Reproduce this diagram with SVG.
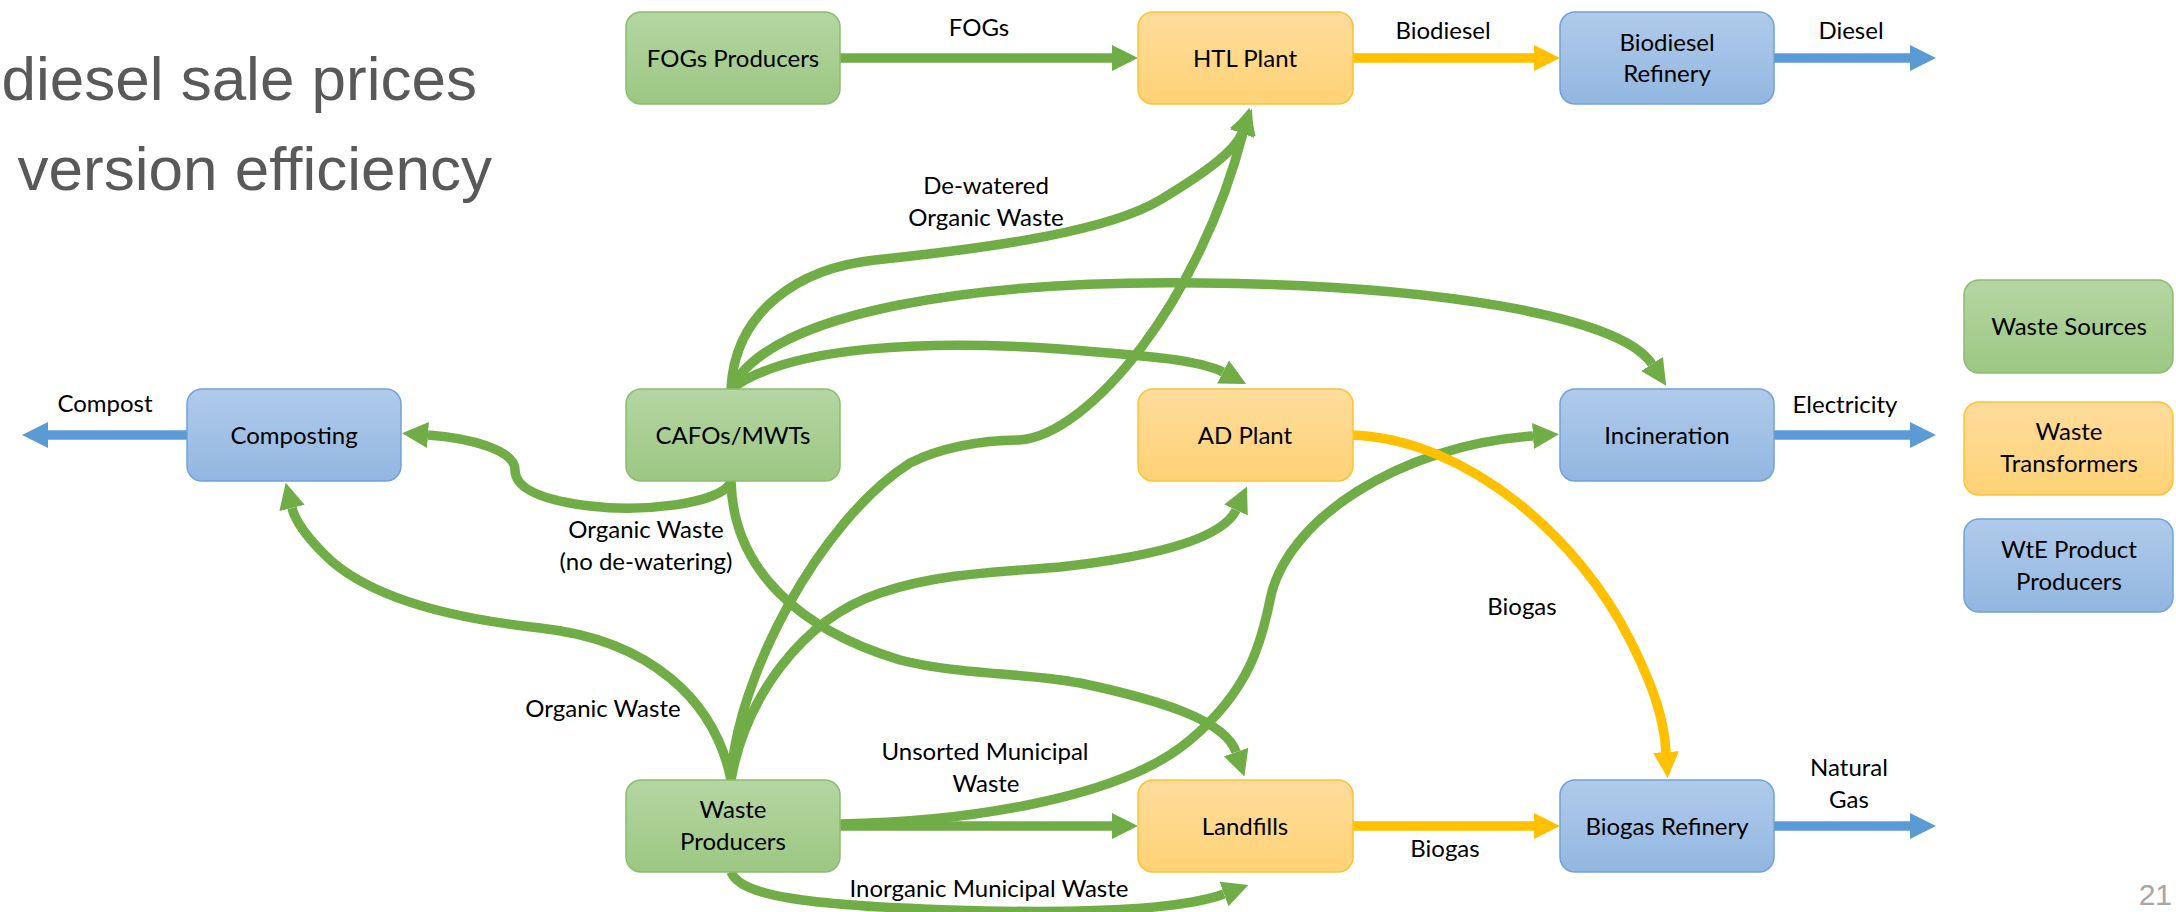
<svg xmlns="http://www.w3.org/2000/svg" width="2176" height="912" viewBox="0 0 2176 912">
<defs>
<linearGradient id="gG" x1="0" y1="0" x2="0" y2="1"><stop offset="0" stop-color="#b5d6a3"/><stop offset="1" stop-color="#9cc782"/></linearGradient>
<linearGradient id="gO" x1="0" y1="0" x2="0" y2="1"><stop offset="0" stop-color="#fedc9c"/><stop offset="1" stop-color="#fed276"/></linearGradient>
<linearGradient id="gB" x1="0" y1="0" x2="0" y2="1"><stop offset="0" stop-color="#b0cbea"/><stop offset="1" stop-color="#92b6e1"/></linearGradient>
<marker id="aG" viewBox="0 0 26 26" refX="0" refY="13" markerWidth="26" markerHeight="26" markerUnits="userSpaceOnUse" orient="auto"><path d="M0,0 L26,13 L0,26 z" fill="#70ad47"/></marker>
<marker id="aY" viewBox="0 0 26 26" refX="0" refY="13" markerWidth="26" markerHeight="26" markerUnits="userSpaceOnUse" orient="auto"><path d="M0,0 L26,13 L0,26 z" fill="#ffc000"/></marker>
<marker id="aB" viewBox="0 0 26 26" refX="0" refY="13" markerWidth="26" markerHeight="26" markerUnits="userSpaceOnUse" orient="auto"><path d="M0,0 L26,13 L0,26 z" fill="#5b9bd5"/></marker>
<style>
.g{fill:url(#gG);stroke:#8cbc6e;stroke-width:1.5}
.o{fill:url(#gO);stroke:#fdc233;stroke-width:1.5}
.b{fill:url(#gB);stroke:#71a2d8;stroke-width:1.5}
.t{font-family:Lato,"Liberation Sans",sans-serif;font-size:24px;fill:#000;text-anchor:middle}
.cg{fill:none;stroke:#70ad47;stroke-width:9.5;marker-end:url(#aG)}
.cy{fill:none;stroke:#ffc000;stroke-width:9.5;marker-end:url(#aY)}
.cb{fill:none;stroke:#5b9bd5;stroke-width:9.5;marker-end:url(#aB)}
.title{font-family:"Liberation Sans",Arial,sans-serif;font-size:62px;fill:#595959;text-anchor:end}
</style>
</defs>
<rect width="2176" height="912" fill="#fff"/>
<text class="title" x="477" y="100">diesel sale prices</text>
<text class="title" x="492" y="190">version efficiency</text>
<text x="2172" y="905" font-family="Liberation Sans,Arial,sans-serif" font-size="30" fill="#a6a6a6" text-anchor="end">21</text>

<g id="connectors">
<path class="cg" d="M840 58 H1112"/>
<path class="cy" d="M1353 58 H1534"/>
<path class="cb" d="M1774 58 H1910"/>
<path class="cb" d="M187 435 H48"/>
<path class="cb" d="M1774 435 H1910"/>
<path class="cg" d="M840 826 H1112"/>
<path class="cy" d="M1353 826 H1534"/>
<path class="cb" d="M1774 826 H1910"/>
<path class="cg" d="M731 389 C735 310 800 268 875 260 C1000 247 1110 230 1160 200 C1210 170 1235 150 1242 133"/>
<path class="cg" d="M731 780 C735 680 820 520 910 463 C940 448 980 440 1019 440 C1090 435 1200 300 1243 133"/>
<path class="cg" d="M731 389 C770 310 980 280 1200 283 C1430 285 1620 315 1652 364"/>
<path class="cg" d="M731 389 C790 345 930 340 1060 349 C1150 356 1200 360 1223 372"/>
<path class="cg" d="M731 481 C733 570 800 630 900 660 C960 675 1020 672 1080 683 C1160 700 1225 720 1236 752"/>
<path class="cg" d="M731 482 C720 505 640 512 590 506 C540 500 515 488 515 470 C515 450 470 438 428 435"/>
<path class="cg" d="M731 780 C715 700 650 640 540 628 C430 616 360 590 325 555 C305 535 295 520 292 508"/>
<path class="cg" d="M731 780 C745 700 800 620 880 593 C940 573 1000 572 1060 567 C1150 557 1222 540 1236 510"/>
<path class="cg" d="M840 824 C960 822 1120 800 1190 740 C1250 690 1262 640 1270 600 C1285 520 1400 445 1533 436"/>
<path class="cg" d="M731 872 C740 895 800 905 950 910 C1080 914 1180 910 1224 894"/>
<path class="cy" d="M1353 435 C1470 440 1580 540 1630 640 C1655 690 1664 720 1666 752"/>
<g class="t">
<text x="979" y="36">FOGs</text>
<text x="1443" y="39">Biodiesel</text>
<text x="1851" y="39">Diesel</text>
<text x="986" y="194">De-watered</text>
<text x="986" y="226">Organic Waste</text>
<text x="105" y="412">Compost</text>
<text x="1845" y="413">Electricity</text>
<text x="646" y="538">Organic Waste</text>
<text x="646" y="570">(no de-watering)</text>
<text x="1522" y="615">Biogas</text>
<text x="603" y="717">Organic Waste</text>
<text x="985" y="760">Unsorted Municipal</text>
<text x="986" y="792">Waste</text>
<text x="1849" y="776">Natural</text>
<text x="1849" y="808">Gas</text>
<text x="1445" y="857">Biogas</text>
<text x="989" y="897">Inorganic Municipal Waste</text>
</g>
</g>

<g id="fogs-producers"><rect class="g" x="626" y="12" width="214" height="92" rx="15"/><text class="t" x="733" y="67">FOGs Producers</text></g>
<g id="htl-plant"><rect class="o" x="1138" y="12" width="215" height="92" rx="15"/><text class="t" x="1245" y="67">HTL Plant</text></g>
<g id="biodiesel-refinery"><rect class="b" x="1560" y="12" width="214" height="92" rx="15"/><text class="t" x="1667" y="51">Biodiesel</text><text class="t" x="1667" y="82">Refinery</text></g>
<g id="composting"><rect class="b" x="187" y="389" width="214" height="92" rx="15"/><text class="t" x="294" y="444">Composting</text></g>
<g id="cafos-mwts"><rect class="g" x="626" y="389" width="214" height="92" rx="15"/><text class="t" x="733" y="444">CAFOs/MWTs</text></g>
<g id="ad-plant"><rect class="o" x="1138" y="389" width="215" height="92" rx="15"/><text class="t" x="1245" y="444">AD Plant</text></g>
<g id="incineration"><rect class="b" x="1560" y="389" width="214" height="92" rx="15"/><text class="t" x="1667" y="444">Incineration</text></g>
<g id="waste-producers"><rect class="g" x="626" y="780" width="214" height="92" rx="15"/><text class="t" x="733" y="818">Waste</text><text class="t" x="733" y="850">Producers</text></g>
<g id="landfills"><rect class="o" x="1138" y="780" width="215" height="92" rx="15"/><text class="t" x="1245" y="835">Landfills</text></g>
<g id="biogas-refinery"><rect class="b" x="1560" y="780" width="214" height="92" rx="15"/><text class="t" x="1667" y="835">Biogas Refinery</text></g>
<g id="legend-waste-sources"><rect class="g" x="1964" y="280" width="209" height="93" rx="15"/><text class="t" x="2069" y="335">Waste Sources</text></g>
<g id="legend-waste-transformers"><rect class="o" x="1964" y="402" width="209" height="93" rx="15"/><text class="t" x="2069" y="440">Waste</text><text class="t" x="2069" y="472">Transformers</text></g>
<g id="legend-wte-producers"><rect class="b" x="1964" y="519" width="209" height="93" rx="15"/><text class="t" x="2069" y="558">WtE Product</text><text class="t" x="2069" y="590">Producers</text></g>
</svg>
